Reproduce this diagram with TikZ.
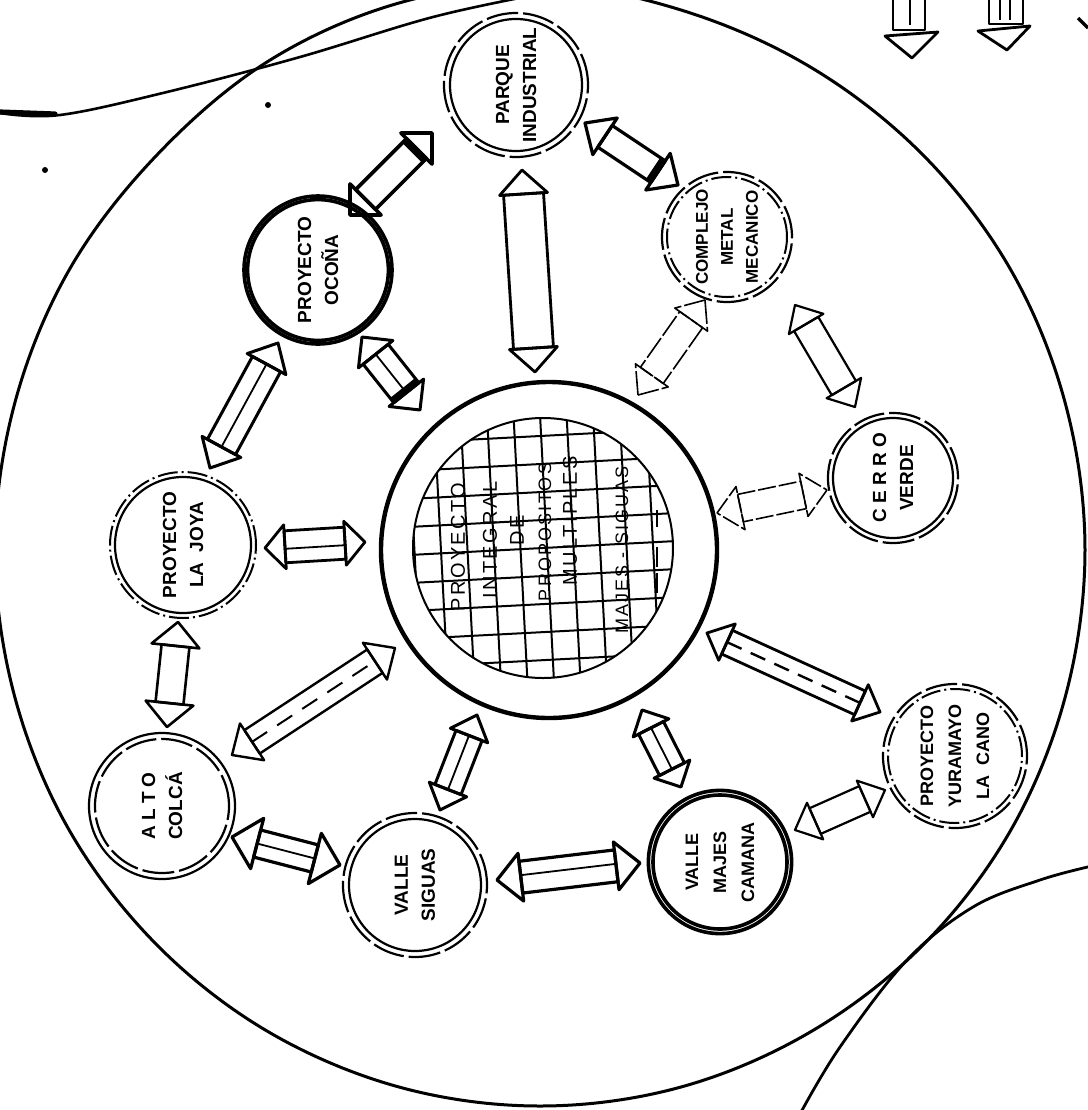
\documentclass[tikz,border=0pt]{standalone}
\usepackage{fontspec}
\setsansfont{Liberation Sans}
\newfontfamily\gridfont[LetterSpace=12]{Liberation Sans}
\usetikzlibrary{calc}
\tikzset{
  arr/.style={line width=1.4pt, line join=round},
  arrthin/.style={line width=0.9pt, line join=round},
  brk/.style={dash pattern=on 12pt off 1.5pt},
  place/.style={circle, inner sep=0pt, minimum size=#1, rotate=90, align=center,
    font=\sffamily\bfseries\fontsize{9.5}{13.5}\selectfont},
  ringsolid/.style={line width=1.1pt},
  ringdash/.style={line width=1.1pt, dash pattern=on 16pt off 2.5pt},
  ringdd/.style={line width=1pt, dash pattern=on 10pt off 2pt on 1pt off 2pt},
  ringheavy/.style={line width=1.8pt},
  gridline/.style={line width=1pt},
  gridtxt/.style={rotate=90, inner sep=0pt, font=\gridfont\fontsize{10}{12}\selectfont},
}
% block double arrow: [opts]{A}{B}{shaft half width}{head half width}{head length}
\newcommand\blockarr[6][]{%
  \draw[arr,#1] (#2) -- ($(#2)!#6!(#3)!#5!90:(#3)$) -- ($(#2)!#6!(#3)!#5!-90:(#3)$) -- cycle;
  \draw[arr,#1] (#3) -- ($(#3)!#6!(#2)!#5!90:(#2)$) -- ($(#3)!#6!(#2)!#5!-90:(#2)$) -- cycle;
  \draw[arr,#1] ($(#2)!#6!(#3)!#4!90:(#3)$) -- ($(#3)!#6!(#2)!#4!-90:(#2)$)
     -- ($(#3)!#6!(#2)!#4!90:(#2)$) -- ($(#2)!#6!(#3)!#4!-90:(#3)$) -- cycle;
}
% stripe inside shaft: [opts]{A}{B}{head length}{offset}
\newcommand\stripe[5][]{%
  \draw[arrthin,#1] ($(#2)!#4!(#3)!#5!90:(#3)$) -- ($(#3)!#4!(#2)!#5!-90:(#2)$);
}
% dark band at B end: {A}{B}{distance}{half width}
\newcommand\band[4]{%
  \draw[line width=3pt] ($(#2)!#3!(#1)!#4!90:(#1)$) -- ($(#2)!#3!(#1)!#4!-90:(#1)$);
}
\begin{document}
\begin{tikzpicture}[x=0.5pt,y=-0.5pt]
\useasboundingbox (0,0) rectangle (1088,1110);
\clip (0,0) rectangle (1088,1110);

% ---- background curves
\draw[line width=1.5pt] plot[smooth cycle, tension=0.6] coordinates {
  (1085,550) (1066,694) (1012,828) (925,943) (812,1031) (681,1087) (540,1106)
  (399,1087) (267,1031) (155,943) (68,828) (14,694) (-5,550) (14,406)
  (68,272) (155,157) (267,62) (399,3) (540,-16) (681,10) (812,68)
  (925,157) (1012,272) (1066,406)};
\draw[line width=1.3pt] plot[smooth, tension=0.6] coordinates {
  (0,113) (60,115) (167,92) (300,57) (433,17) (540,-6)};
\draw[line width=2.6pt, line cap=round] (0,112) -- (55,114);
\draw[line width=1.4pt] plot[smooth, tension=0.6] coordinates {
  (1092,866) (1040,880) (973,907) (907,960) (840,1047) (800,1114)};
\fill (268,105) circle[radius=1.5pt];
\fill (45,170) circle[radius=1.5pt];

% ---- top right partial arrows
\draw[arr] (893,-5) -- (893,30) -- (925,30) -- (925,-5);
\draw[arr] (885,36) -- (938,32) -- (912,58) -- cycle;
\draw[arrthin] (910,-5) -- (910,25);
\draw[arr] (989,-5) -- (989,24) -- (1023,24) -- (1023,-5);
\draw[arr] (978,31) -- (1030,26) -- (1007,50) -- cycle;
\draw[arrthin] (1000,-5) -- (1000,20);
\draw[arrthin] (1010,-5) -- (1010,20);
\draw[line width=1.6pt] (1078,18) -- (1088,28);

% ---- central hub
\node[circle, minimum size=168pt, inner sep=0pt] (hub) at (549,550) {};
\draw[line width=2.2pt] (hub.center) circle[radius=84pt];
\node[circle, minimum size=130pt, inner sep=0pt] (core) at (543,548) {};
\begin{scope}
  \clip (core.center) circle[radius=65pt];
  \begin{scope}[shift={(543,548)}, rotate=3]
    \foreach \k in {-5,...,5} {
      \draw[gridline] ({4+26.5*\k},-150) -- ({4+26.5*\k},150);
      \draw[gridline] (-150,{28*\k}) -- (150,{28*\k});
    }
  \end{scope}
\end{scope}
\draw[line width=1pt] (core.center) circle[radius=65pt];
\node[gridtxt] (g1) at (458,547) {PROYECTO};
\node[gridtxt] (g2) at (490,540) {INTEGRAL};
\node[gridtxt] (g3) at (517,530) {DE};
\node[gridtxt, font=\gridfont\fontsize{9}{11}\selectfont] (g4) at (545,532) {PROPOSITOS};
\node[gridtxt] (g5) at (570,521) {MULTIPLES};
\node[gridtxt, font=\gridfont\fontsize{9}{11}\selectfont] (g6) at (622,550) {MAJES - SIGUAS};
\draw[line width=1pt] (657,510) -- (657,527);
\draw[line width=1pt] (657,547) -- (657,567);
\draw[line width=1pt] (657,573) -- (657,593);

% ---- satellite nodes
\node[place=72pt] (parque) at (516,85) {PARQUE\\INDUSTRIAL};
\draw[ringsolid] (parque.center) circle[radius=33pt];
\draw[ringdash] (parque.center) circle[radius=36pt];

\node[place=65pt, font=\sffamily\bfseries\fontsize{8.5}{12.5}\selectfont] (complejo) at (727,237) {COMPLEJO\\METAL\\MECANICO};
\draw[ringdd] (complejo.center) circle[radius=30pt];
\draw[ringdash] (complejo.center) circle[radius=32.5pt];

\node[place=65pt] (cerro) at (893,478) {C E R R O\\VERDE};
\draw[ringsolid] (cerro.center) circle[radius=30pt];
\draw[ringdash] (cerro.center) circle[radius=32.5pt];

\node[place=72pt, font=\sffamily\bfseries\fontsize{9}{14}\selectfont] (yura) at (955,756) {PROYECTO\\YURAMAYO\\LA\ \ CANO};
\draw[ringdd] (yura.center) circle[radius=33.5pt];
\draw[ringdash] (yura.center) circle[radius=36pt];

\node[place=72pt, font=\sffamily\bfseries\fontsize{9}{14}\selectfont] (majes) at (720,862) {VALLE\\MAJES\\CAMANA};
\draw[ringheavy] (majes.center) circle[radius=33.5pt];
\draw[ringheavy] (majes.center) circle[radius=35.8pt];

\node[place=72pt] (siguas) at (415,885) {VALLE\\SIGUAS};
\draw[ringsolid] (siguas.center) circle[radius=33pt];
\draw[ringdash] (siguas.center) circle[radius=36pt];

\node[place=73pt] (colca) at (162,806) {A L T O\\COLCÁ};
\draw[ringdash] (colca.center) circle[radius=33.5pt];
\draw[ringsolid] (colca.center) circle[radius=36.5pt];

\node[place=73pt] (joya) at (183,545) {PROYECTO\\LA\ \ JOYA};
\draw[ringsolid] (joya.center) circle[radius=34pt];
\draw[ringdd] (joya.center) circle[radius=36.5pt];

\node[place=75pt] (ocona) at (318,270) {PROYECTO\\OCOÑA};
\draw[ringheavy] (ocona.center) circle[radius=35.2pt];
\draw[ringheavy] (ocona.center) circle[radius=37pt];

% ---- arrow end points
\coordinate (a1s) at (350,215);  \coordinate (a1e) at (432,133);
\coordinate (a2s) at (522,170);  \coordinate (a2e) at (535,372);
\coordinate (a3s) at (585,123);  \coordinate (a3e) at (678,185);
\coordinate (a4s) at (705,300);  \coordinate (a4e) at (638,395);
\coordinate (a5s) at (795,305);  \coordinate (a5e) at (855,407);
\coordinate (a6s) at (717,513);  \coordinate (a6e) at (827,490);
\coordinate (a7s) at (707,633);  \coordinate (a7e) at (880,712);
\coordinate (a8s) at (642,710);  \coordinate (a8e) at (681,787);
\coordinate (a9s) at (795,830);  \coordinate (a9e) at (885,790);
\coordinate (a10s) at (497,880); \coordinate (a10e) at (640,863);
\coordinate (a11s) at (440,810); \coordinate (a11e) at (477,715);
\coordinate (a12s) at (232,837); \coordinate (a12e) at (340,865);
\coordinate (a13s) at (232,755); \coordinate (a13e) at (395,648);
\coordinate (a14s) at (178,622); \coordinate (a14e) at (167,727);
\coordinate (a15s) at (265,548); \coordinate (a15e) at (365,542);
\coordinate (a16s) at (210,468); \coordinate (a16e) at (278,343);
\coordinate (a17s) at (362,337); \coordinate (a17e) at (420,410);

% ---- arrows
\blockarr[line width=1.8pt]{a1s}{a1e}{7pt}{11pt}{11pt}
\band{a1s}{a1e}{12.5pt}{7pt}
\blockarr[line width=1.4pt]{a2s}{a2e}{10pt}{12pt}{12pt}
\blockarr[line width=1.6pt]{a3s}{a3e}{6.5pt}{11pt}{12pt}
\band{a3s}{a3e}{13.5pt}{6.5pt}
\blockarr[line width=0.8pt, brk]{a4s}{a4e}{7pt}{10pt}{12pt}
\blockarr[line width=1.1pt]{a5s}{a5e}{7pt}{10pt}{11pt}
\blockarr[line width=0.8pt, dash pattern=on 9pt off 1.5pt]{a6s}{a6e}{7pt}{11pt}{12pt}
\blockarr[line width=1.4pt]{a7s}{a7e}{6.5pt}{10pt}{11pt}
\stripe[line width=1.2pt, dash pattern=on 8pt off 5pt]{a7s}{a7e}{11pt}{0pt}
\blockarr[line width=1.5pt]{a8s}{a8e}{7pt}{10pt}{10pt}
\stripe{a8s}{a8e}{10pt}{0pt}
\blockarr[line width=1.1pt]{a9s}{a9e}{7pt}{10pt}{11pt}
\blockarr[line width=1.6pt]{a10s}{a10e}{8pt}{12pt}{12pt}
\stripe{a10s}{a10e}{12pt}{1pt}
\blockarr[line width=1.5pt]{a11s}{a11e}{7pt}{10pt}{11pt}
\stripe{a11s}{a11e}{11pt}{0pt}
\blockarr[line width=1.6pt]{a12s}{a12e}{7pt}{13pt}{13pt}
\stripe{a12s}{a12e}{13pt}{0pt}
\blockarr[line width=1.2pt]{a13s}{a13e}{7pt}{11pt}{12pt}
\stripe[line width=1pt, dash pattern=on 9pt off 6pt]{a13s}{a13e}{12pt}{0pt}
\blockarr[line width=1.3pt]{a14s}{a14e}{7pt}{12pt}{12pt}
\blockarr[line width=1.4pt]{a15s}{a15e}{8pt}{11pt}{10pt}
\stripe{a15s}{a15e}{10pt}{-1pt}
\blockarr[line width=1.5pt]{a16s}{a16e}{8pt}{11pt}{12pt}
\stripe{a16s}{a16e}{12pt}{0pt}
\blockarr[line width=1.5pt]{a17s}{a17e}{8pt}{11pt}{11pt}
\stripe{a17s}{a17e}{11pt}{0pt}
\band{a17s}{a17e}{12.5pt}{8pt}
\end{tikzpicture}
\end{document}
